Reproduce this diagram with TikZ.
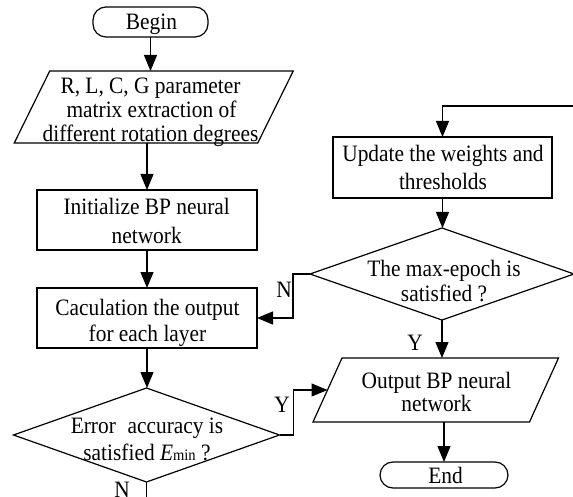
\documentclass[tikz,border=0pt]{standalone}
\usepackage{fontspec}
\setmainfont{Liberation Serif}[FakeStretch=0.91]
\usetikzlibrary{arrows.meta,shapes.geometric,calc}

\begin{document}
\begin{tikzpicture}[x=1pt,y=-1pt,
  line width=1.2pt,
  font=\fontsize{23.5}{26}\selectfont,
  every node/.style={inner sep=0pt, outer sep=0pt},
  term/.style={draw, rectangle, rounded corners=13pt},
  box/.style={draw, rectangle, minimum width=220pt, minimum height=60pt},
  dia/.style={draw, diamond},
  io/.style={rectangle},
  tx/.style={anchor=base},
  flow/.style={-{Triangle[length=16pt,width=13pt]}},
]
\useasboundingbox (0,0) rectangle (573,497);

% ---- shapes, left column
\node[term, minimum width=115pt, minimum height=30pt] (begin) at (150.5,22) {};
\node[io, minimum width=243.5pt, minimum height=72pt] (p1) at (153.75,107) {};
\draw ($(p1.north west)+(17.75,0)$) -- ($(p1.north east)+(17.75,0)$)
   -- ($(p1.south east)+(-17.75,0)$) -- ($(p1.south west)+(-17.75,0)$) -- cycle;
\node[box] (init) at (147,220) {};
\node[box] (calc) at (147,318) {};
\node[dia, minimum width=266pt, minimum height=94pt] (err) at (146.5,435) {};

% ---- shapes, right column
\node[box, minimum width=219pt, minimum height=61pt] (upd) at (442.5,167.5) {};
\node[dia, minimum width=264pt, minimum height=92pt] (me) at (442,274) {};
\node[io, minimum width=216.5pt, minimum height=64pt] (out) at (435.75,390) {};
\draw ($(out.north west)+(14.5,0)$) -- ($(out.north east)+(14.5,0)$)
   -- ($(out.south east)+(-14.5,0)$) -- ($(out.south west)+(-14.5,0)$) -- cycle;
\node[term, minimum width=128pt, minimum height=26pt] (end) at (444,475) {};

% ---- texts, one node per line, placed on their baselines
\node[tx] (tbegin) at (151.5,30) {Begin};
\node[tx] (p1a) at (150.5,93.3) {R, L, C, G parameter};
\node[tx] (p1b) at (151.5,117.7) {matrix extraction of};
\node[tx] (p1c) at (150.5,141.7) {different rotation degrees};
\node[tx] (inita) at (146.7,214.3) {Initialize BP neural};
\node[tx] (initb) at (146.7,243.3) {network};
\node[tx] (calca) at (147.5,315) {Caculation the output};
\node[tx] (calcb) at (147.5,341.7) {for each layer};
\node[tx] (erra) at (147,433) {Error\enspace accuracy is};
\node[tx] (errb) at (147,460) {satisfied \textit{E}{\fontsize{16}{16}\selectfont min} ?};
\node[tx] (upda) at (443,161.7) {Update the weights and};
\node[tx] (updb) at (443,190) {thresholds};
\node[tx] (mea) at (444,276.7) {The max-epoch is};
\node[tx] (meb) at (444,301.7) {satisfied ?};
\node[tx] (outa) at (436.5,388) {Output BP neural};
\node[tx] (outb) at (436.5,411.7) {network};
\node[tx] (tend) at (445.5,483) {End};

% ---- connectors
\draw[flow] (begin.south) -- (begin.south |- p1.north);
\draw[flow] (init.north |- p1.south) -- (init.north);
\draw[flow] (init.south) -- (calc.north);
\draw[flow] (calc.south) -- (calc.south |- err.north);
\coordinate (errdown) at ($(err.south)+(0,20)$);
\draw (err.south) -- (errdown);
\draw[flow] (err.east) -- ++(14,0) |- (out.west);
\coordinate (loopc) at (442.5,106);
\draw[flow] (me.east) -- ++(6,0) |- (loopc) -- (upd.north);
\draw[flow] (upd.south) -- (upd.south |- me.north);
\draw[flow] (me.west) -- ++(-17,0) |- (calc.east);
\draw[flow] (me.south) -- (me.south |- out.north);
\draw[flow] (end.north |- out.south) -- (end.north);

% ---- branch labels
\node[tx] (nerr) at (122,497.5) {N};
\node[tx] (yerr) at (282,412) {Y};
\node[tx] (nme) at (284,298) {N};
\node[tx] (yme) at (415,350.5) {Y};
\end{tikzpicture}
\end{document}
